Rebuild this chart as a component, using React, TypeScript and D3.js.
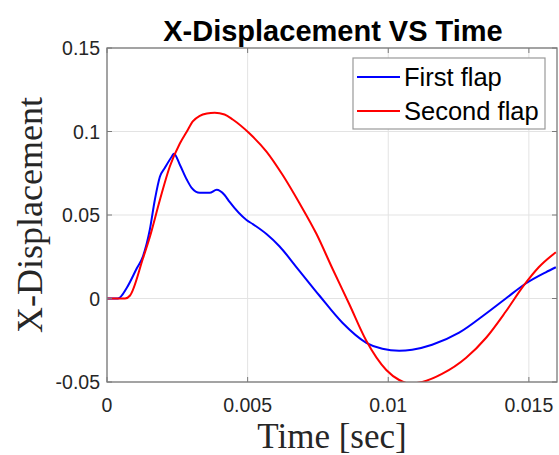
import React from "react";
import * as d3 from "d3";

const xTicks = [0, 0.005, 0.01, 0.015];
const xTickLabels = ["0", "0.005", "0.01", "0.015"];
const yTicks = [-0.05, 0, 0.05, 0.1, 0.15];
const yTickLabels = ["-0.05", "0", "0.05", "0.1", "0.15"];

const firstT = [0, 0.00039, 0.00071, 0.00106, 0.00128, 0.00152, 0.0017, 0.00188, 0.00206, 0.0023, 0.00238, 0.00259, 0.00284, 0.00301, 0.0033, 0.00365, 0.0039, 0.00418, 0.00436, 0.00496, 0.00518, 0.00567, 0.00613, 0.00674, 0.00755, 0.00837, 0.00922, 0.00979, 0.01039, 0.01085, 0.01156, 0.01252, 0.01348, 0.01418, 0.01489, 0.0156, 0.01596];
const firstV = [0, 0, 0.0066, 0.0181, 0.0253, 0.041, 0.059, 0.0729, 0.0783, 0.0849, 0.0867, 0.0801, 0.0711, 0.0663, 0.0633, 0.0633, 0.0651, 0.062, 0.0578, 0.047, 0.0446, 0.0386, 0.0313, 0.0187, 0.0018, -0.0145, -0.0265, -0.0301, -0.0313, -0.0307, -0.0277, -0.0205, -0.009, 0, 0.009, 0.0157, 0.0187];

const secondT = [0, 0.00064, 0.00082, 0.00128, 0.00152, 0.00188, 0.00223, 0.00259, 0.00284, 0.00305, 0.0033, 0.00355, 0.00383, 0.00418, 0.00447, 0.00507, 0.00567, 0.00624, 0.00684, 0.00745, 0.00801, 0.00862, 0.00922, 0.00993, 0.01039, 0.01074, 0.01121, 0.01191, 0.01277, 0.01348, 0.01418, 0.01482, 0.01535, 0.01596];
const secondV = [0, 0, 0.0018, 0.0241, 0.0367, 0.059, 0.0789, 0.0928, 0.1, 0.106, 0.1094, 0.1108, 0.1113, 0.1102, 0.1072, 0.0988, 0.088, 0.0741, 0.0572, 0.0386, 0.0181, -0.0036, -0.0253, -0.0428, -0.0488, -0.0509, -0.05, -0.0452, -0.0355, -0.0235, -0.0078, 0.0078, 0.0187, 0.0277];

const seriesNames = ["First flap", "Second flap"];
const seriesColors = ["#0000ff", "#ff0000"];

export default function App() {
  const W = 559, H = 455;
  const L = 107, R = 557, T = 48, B = 382;
  const x = d3.scaleLinear().domain([0, 0.016]).range([L, R]);
  const y = d3.scaleLinear().domain([-0.05, 0.15]).range([B, T]);
  const line = d3
    .line<[number, number]>()
    .x((d) => x(d[0]))
    .y((d) => y(d[1]))
    .curve(d3.curveMonotoneX);
  const s1 = firstT.map((t, i) => [t, firstV[i]] as [number, number]);
  const s2 = secondT.map((t, i) => [t, secondV[i]] as [number, number]);
  const axisColor = "#7a7a7a";
  const tickColor = "#262626";
  const sans = "'Liberation Sans', Arial, sans-serif";
  const serif = "'Liberation Serif', 'Times New Roman', serif";
  return (
    <svg width={W} height={H} style={{ position: "absolute", left: 0, top: 0, background: "#fff" }}>
      <defs>
        <clipPath id="plotclip">
          <rect x={L} y={T} width={R - L} height={B - T} />
        </clipPath>
      </defs>
      {xTicks.map((t, i) => (
        <line key={"gx" + i} x1={x(t)} x2={x(t)} y1={T} y2={B} stroke="#e3e3e3" strokeWidth={1} />
      ))}
      {yTicks.map((t, i) => (
        <line key={"gy" + i} x1={L} x2={R} y1={y(t)} y2={y(t)} stroke="#e3e3e3" strokeWidth={1} />
      ))}
      <g clipPath="url(#plotclip)">
        <path d={line(s1) || ""} fill="none" stroke={seriesColors[0]} strokeWidth={2} />
        <path d={line(s2) || ""} fill="none" stroke={seriesColors[1]} strokeWidth={2} />
      </g>
      <rect x={L} y={T} width={R - L} height={B - T} fill="none" stroke={axisColor} strokeWidth={1.3} />
      {xTicks.map((t, i) => (
        <g key={"tx" + i}>
          <line x1={x(t)} x2={x(t)} y1={B} y2={B - 5} stroke={axisColor} />
          <line x1={x(t)} x2={x(t)} y1={T} y2={T + 5} stroke={axisColor} />
          <text x={x(t)} y={412} textAnchor="middle" fontFamily={sans} fontSize={19.5} fill={tickColor}>
            {xTickLabels[i]}
          </text>
        </g>
      ))}
      {yTicks.map((t, i) => (
        <g key={"ty" + i}>
          <line x1={L} x2={L + 5} y1={y(t)} y2={y(t)} stroke={axisColor} />
          <line x1={R} x2={R - 5} y1={y(t)} y2={y(t)} stroke={axisColor} />
          <text x={100} y={y(t) + 7} textAnchor="end" fontFamily={sans} fontSize={19.5} fill={tickColor}>
            {yTickLabels[i]}
          </text>
        </g>
      ))}
      <text x={333} y={41} textAnchor="middle" fontFamily={sans} fontWeight="bold" fontSize={29} fill="#000">
        X-Displacement VS Time
      </text>
      <text x={332} y={448} textAnchor="middle" fontFamily={serif} fontSize={35} fill={tickColor}>
        Time [sec]
      </text>
      <text
        transform={`translate(42, ${(T + B) / 2}) rotate(-90)`}
        textAnchor="middle"
        fontFamily={serif}
        fontSize={36}
        fill={tickColor}
      >
        X-Displacement
      </text>
      <g>
        <rect x={353} y={58} width={192} height={71} fill="#fff" stroke="#999" strokeWidth={1.2} />
        {seriesNames.map((n, i) => (
          <g key={"lg" + i}>
            <line x1={357} x2={400} y1={77 + i * 34} y2={77 + i * 34} stroke={seriesColors[i]} strokeWidth={2} />
            <text x={404} y={77 + i * 34 + 9} fontFamily={sans} fontSize={25.5} fill="#000">
              {n}
            </text>
          </g>
        ))}
      </g>
    </svg>
  );
}
